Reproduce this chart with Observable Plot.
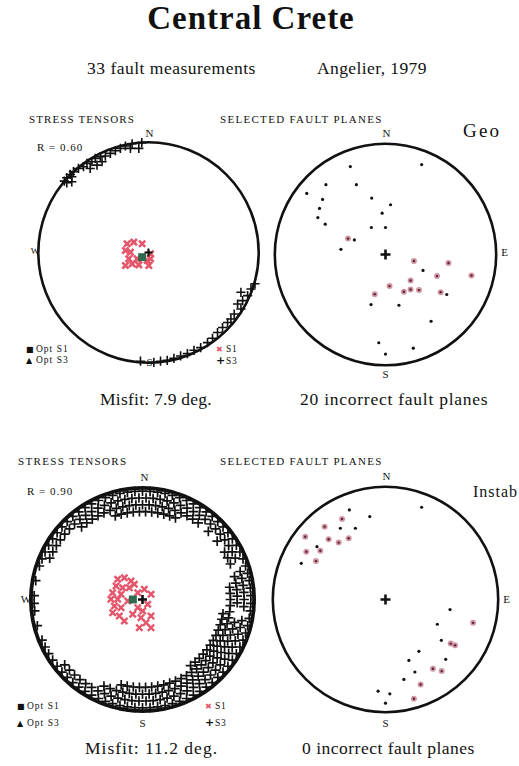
<!DOCTYPE html>
<html><head><meta charset="utf-8">
<script src="https://cdn.jsdelivr.net/npm/d3@7"></script>
<script src="https://cdn.jsdelivr.net/npm/@observablehq/plot@0.6"></script>
<style>
body{margin:0;background:#fff;}
#page{position:relative;width:519px;height:766px;font-family:"Liberation Serif","Times New Roman",serif;color:#111;overflow:hidden;background:#fff;}
.t{position:absolute;white-space:nowrap;line-height:1;}
.sym{font-family:"DejaVu Sans",sans-serif;display:inline-block;width:10px;line-height:0;}
</style></head><body><div id="page"></div>
<script>
// ---------- DATA (normalized stereonet coords: x = East, y = North, unit = net radius) ----------
// Top-left: stress tensors (Geo)
const tlS3 = [[-0.06,0.985],[-0.147,0.975],[-0.207,0.955],[-0.087,0.934],[-0.162,0.934],[-0.252,0.934],[-0.297,0.913],[-0.342,0.889],[-0.387,0.865],[-0.432,0.859],[-0.477,0.844],[-0.417,0.814],[-0.507,0.814],[-0.552,0.799],[-0.462,0.784],[-0.583,0.769],[-0.628,0.754],[-0.523,0.754],[-0.673,0.725],[-0.703,0.700],[-0.733,0.670],[-0.688,0.679],[-0.755,0.640],[-0.733,0.625],[-0.688,0.634],
 [0.955,-0.280],[0.919,-0.327],[0.829,-0.357],[0.889,-0.387],[0.844,-0.432],[0.799,-0.462],[0.829,-0.507],[0.769,-0.552],[0.739,-0.597],[0.709,-0.628],[0.664,-0.673],[0.619,-0.718],[0.574,-0.769],[0.529,-0.808],[0.468,-0.853],[0.408,-0.877],[0.349,-0.907],[0.288,-0.928],[0.228,-0.949],[0.168,-0.967],[0.108,-0.975],[0.048,-0.985],[-0.072,-0.975]];
const tlS1 = [[-0.192,0.078],[-0.132,0.093],[-0.057,0.078],[-0.207,0.018],[-0.162,0.003],[0.018,-0.012],[-0.177,-0.057],[-0.147,-0.102],[-0.207,-0.117],[-0.087,-0.111],[-0.012,-0.072],[0.003,-0.117],[-0.102,-0.057],[0.018,-0.057]];
const tlOptS1 = [[-0.057,-0.042]];

// Top-right: selected fault planes (Geo)
const trBlack = [[-0.314,0.785],[0.323,0.803],[-0.532,0.623],[-0.260,0.623],[-0.703,0.545],[-0.562,0.492],[-0.123,0.504],[0.045,0.444],[-0.589,0.411],[-0.604,0.330],[-0.030,0.369],[-0.538,0.271],[-0.126,0.241],[0.000,0.241],[-0.278,0.130],[-0.398,0.046],[0.335,-0.142],[0.547,-0.357],[-0.129,-0.447],[0.120,-0.453],[0.407,-0.596],[-0.060,-0.788],[0.248,-0.836],[0.000,-0.889]];
const trRed = [[-0.335,0.142],[0.254,-0.058],[0.562,-0.076],[0.460,-0.193],[0.768,-0.187],[0.224,-0.232],[0.036,-0.282],[0.224,-0.312],[0.299,-0.318],[0.164,-0.333],[0.493,-0.336],[-0.096,-0.354]];

// Bottom-left: stress tensors (Instab) — S3 band, by ring radius and azimuth (deg clockwise from N)
const blRingR = [0.955, 0.895, 0.835, 0.775, 0.72];
const blRingAz = [
 [0,4,8,12,16,20,24,28,32,36,40,44,48,52,56,60,64,68,72,76,80,84,88,92,96,100,104,108,112,116,120,124,128,132,136,140,144,148,152,156,160,164,168,172,176,180,184,188,192,196,200,204,208,212,216,220,224,228,232,236,240,244,248,256,264,268,272,280,288,292,296,300,304,308,312,316,320,324,328,332,336,340,344,348,352,356],
 [2,6,10,14,18,22,26,30,34,38,42,46,50,54,58,62,66,74,78,82,86,90,94,102,106,110,114,118,122,126,130,134,138,142,146,150,154,158,162,166,170,174,178,182,186,190,194,198,202,206,210,214,218,222,226,230,294,298,302,306,310,314,318,322,326,330,334,338,342,346,350,354,358],
 [0,4,8,12,16,20,24,28,32,36,44,52,60,64,68,76,80,84,88,92,104,108,112,116,120,124,128,132,136,140,144,148,152,156,160,164,168,172,176,180,184,188,192,196,200,204,320,324,328,332,336,340,344,348,352,356],
 [2,6,10,14,18,22,82,86,90,94,98,102,106,110,114,118,122,126,130,134,138,142,146,150,154,158,162,166,170,174,178,182,186,190,194,342,346,350,354,358],
 [100,104,108,112,116,120,124,128,132,136,140,144]
];
const blS1 = [[-0.219,0.178],[-0.160,0.192],[-0.101,0.163],[-0.233,0.119],[-0.175,0.104],[-0.116,0.104],[-0.072,0.134],[-0.042,0.060],[0.016,0.090],[0.075,0.046],[-0.263,0.060],[-0.278,0.002],[-0.219,0.002],[-0.248,-0.057],[-0.189,-0.072],[-0.263,-0.116],[-0.204,-0.145],[-0.160,-0.189],[-0.042,-0.072],[0.002,-0.101],[0.046,-0.042],[-0.013,-0.160],[0.031,-0.204],[0.075,-0.145],[-0.028,-0.248],[0.075,-0.248],[-0.086,-0.130],[-0.130,-0.013],[-0.189,0.046]];
const blOptS1 = [[-0.085,0.0]];

// Bottom-right: selected fault planes (Instab)
const brBlack = [[-0.317,0.786],[-0.138,0.727],[0.317,0.809],[-0.264,0.625],[-0.396,0.625],[-0.601,0.463],[-0.739,0.317],[0.566,-0.088],[0.455,-0.217],[0.490,-0.358],[0.293,-0.455],[0.205,-0.534],[0.528,-0.525],[0.258,-0.636],[0.161,-0.701],[-0.065,-0.804],[0.038,-0.827],[0.000,-0.909]];
const brRed = [[-0.381,0.707],[-0.534,0.639],[-0.704,0.551],[-0.499,0.528],[-0.411,0.499],[-0.323,0.537],[-0.572,0.428],[-0.695,0.419],[-0.610,0.337],[0.768,-0.205],[0.572,-0.387],[0.610,-0.402],[0.416,-0.607],[0.493,-0.628],[0.308,-0.745],[0.249,-0.871]];

const centre = [[0,0]];

// ---------- RENDER ----------
const page = document.getElementById("page");
const SERIF = "Liberation Serif, Times New Roman, serif";
const RED = "#e4566a";

const plusSym = {draw(ctx, size){const h=Math.sqrt(size/Math.PI); ctx.moveTo(-h,0); ctx.lineTo(h,0); ctx.moveTo(0,-h); ctx.lineTo(0,h);}};
const timesSym = {draw(ctx, size){const h=Math.sqrt(size/Math.PI)*0.75; ctx.moveTo(-h,-h); ctx.lineTo(h,h); ctx.moveTo(-h,h); ctx.lineTo(h,-h);}};

const px = d => d[0], py = d => d[1];

function panel({cx, cy, R, lw, marks, labels}) {
  const S = 280, c = S / 2;
  const plot = Plot.plot({
    width: S, height: S, margin: 0,
    x: {domain: [-1, 1], range: [c - R, c + R], axis: null},
    y: {domain: [-1, 1], range: [c + R, c - R], axis: null},
    style: {background: "transparent", overflow: "visible", fontFamily: SERIF},
    marks: [
      ...marks,
      Plot.dot(centre, {x: px, y: py, r: R - lw / 2, stroke: "#111", strokeWidth: lw, fill: "none"}),
      ...labels.map(([t, x, y, dx, dy, fs]) => Plot.text([t], {x: () => x, y: () => y, dx, dy, text: d => d, fontSize: fs, fontFamily: SERIF, fill: "#111"}))
    ]
  });
  plot.style.position = "absolute";
  plot.style.left = (cx - c) + "px";
  plot.style.top = (cy - c) + "px";
  page.appendChild(plot);
}

function faultMarks(black, red) {
  return [
    Plot.dot(red, {x: px, y: py, r: 3, fill: "#c98595", fillOpacity: 0.85}),
    Plot.dot(red, {x: px, y: py, r: 1.2, fill: "#5a2030"}),
    Plot.dot(black, {x: px, y: py, r: 1.6, fill: "#111"}),
    Plot.dot(centre, {x: px, y: py, r: 5, symbol: plusSym, stroke: "#111", strokeWidth: 2.6, fill: "none"})
  ];
}

// Top-left
panel({cx: 147.5, cy: 252, R: 111.5, lw: 2.6,
  marks: [
    Plot.dot(tlS1, {x: px, y: py, r: 4.2, symbol: timesSym, stroke: RED, strokeWidth: 2.6, fill: "none"}),
    Plot.dot(tlOptS1, {x: px, y: py, r: 4.5, symbol: "square", fill: "#2f6b4e"}),
    Plot.dot(centre, {x: px, y: py, r: 4, symbol: plusSym, stroke: "#111", strokeWidth: 2, fill: "none"}),
    Plot.dot(tlS3, {x: px, y: py, r: 4.6, symbol: plusSym, stroke: "#111", strokeWidth: 1.6, fill: "none"})
  ],
  labels: [["N", 0, 1, 1, -8, 11], ["S", 0, -1, 1, -2, 11], ["W", -1, 0, -2, -1, 9]]
});

// Top-right
panel({cx: 385.3, cy: 253.5, R: 112, lw: 2.6,
  marks: faultMarks(trBlack, trRed),
  labels: [["N", 0, 1, 1, -9, 11], ["S", 0, -1, 0, 8, 11], ["E", 1, 0, 7, -2, 11]]
});

// Bottom-left
const blS3 = blRingR.flatMap((r, i) => blRingAz[i].map(az => [r * Math.sin(az * Math.PI / 180), r * Math.cos(az * Math.PI / 180)]));
panel({cx: 141.5, cy: 598.5, R: 113.5, lw: 3.8,
  marks: [
    Plot.dot(blS3, {x: px, y: py, r: 4.8, symbol: plusSym, stroke: "#111", strokeWidth: 1.7, fill: "none"}),
    Plot.dot(blS1, {x: px, y: py, r: 4.2, symbol: timesSym, stroke: RED, strokeWidth: 2.4, fill: "none"}),
    Plot.dot(blOptS1, {x: px, y: py, r: 4.5, symbol: "square", fill: "#2f6b4e"}),
    Plot.dot(centre, {x: px, y: py, r: 4.5, symbol: plusSym, stroke: "#111", strokeWidth: 2.6, fill: "none"})
  ],
  labels: [["N", 0, 1, 2, -9, 11], ["S", 0, -1, 0, 10, 11], ["W", -1, 0, -3, 0, 11]]
});

// Bottom-right
panel({cx: 385.3, cy: 599.3, R: 114, lw: 2.6,
  marks: faultMarks(brBlack, brRed),
  labels: [["N", 0, 1, 1, -9, 11], ["S", 0, -1, 0, 10, 11], ["E", 1, 0, 7, 0, 11]]
});

// ---------- TEXT ----------
function txt(s, x, baseline, fs, o = {}) {
  const d = document.createElement("div");
  d.className = "t";
  if (o.sym) {
    const sp = document.createElement("span");
    sp.className = "sym"; sp.textContent = o.sym;
    sp.style.fontSize = (o.symSize || fs) + "px";
    if (o.symColor) sp.style.color = o.symColor;
    if (o.symBold) sp.style.fontWeight = "bold";
    d.appendChild(sp);
    d.appendChild(document.createTextNode(s));
  } else d.textContent = s;
  d.style.fontSize = fs + "px";
  d.style.top = (baseline - 0.8375 * fs) + "px";
  d.style.left = x + "px";
  if (o.center) d.style.transform = "translateX(-50%)";
  if (o.bold) d.style.fontWeight = "bold";
  if (o.ls) d.style.letterSpacing = o.ls + "px";
  if (o.color) d.style.color = o.color;
  page.appendChild(d);
}
txt("Central Crete", 251, 30, 33, {center: true, bold: true, ls: 1});
txt("33  fault measurements", 87, 75, 17.5, {ls: 0.5});
txt("Angelier, 1979", 317, 75, 17.5, {ls: 0.4});

txt("STRESS TENSORS", 29, 123, 11, {ls: 1.1});
txt("SELECTED FAULT PLANES", 220, 123, 11, {ls: 1.3});
txt("R = 0.60", 37, 151, 11, {ls: 1});
txt("Geo", 463, 137, 19, {ls: 2.2});
txt("Misfit: 7.9 deg.", 100, 406, 17.5, {ls: 0.25});
txt("20 incorrect fault planes", 300, 406, 17.5, {ls: 0.75});

// top-left legend
txt("Opt S1", 26, 353, 9.5, {ls: 1, sym: "■", symSize: 8});
txt("Opt S3", 26, 364, 9.5, {ls: 1, sym: "▲", symSize: 8});
txt("S1", 216, 352.5, 9.5, {ls: 0.6, sym: "✖", symSize: 8, symColor: RED});
txt("S3", 216, 364.5, 9.5, {ls: 0.6, sym: "+", symSize: 11, symBold: true});

txt("STRESS TENSORS", 18, 465, 11, {ls: 1.35});
txt("SELECTED FAULT PLANES", 220, 465, 11, {ls: 1.3});
txt("R = 0.90", 27, 495, 11, {ls: 1});
txt("Instab", 473, 497, 16, {ls: 1});
txt("Misfit: 11.2 deg.", 85, 755, 17.5, {ls: 1});
txt("0 incorrect fault planes", 302, 755, 17.5, {ls: 0.5});

// bottom-left legend
txt("Opt S1", 17, 710, 9.5, {ls: 1, sym: "■", symSize: 8});
txt("Opt S3", 17, 727, 9.5, {ls: 1, sym: "▲", symSize: 8});
txt("S1", 205, 710, 9.5, {ls: 0.6, sym: "✖", symSize: 8, symColor: RED});
txt("S3", 205, 727, 9.5, {ls: 0.6, sym: "+", symSize: 11, symBold: true});
</script>
</body></html>
